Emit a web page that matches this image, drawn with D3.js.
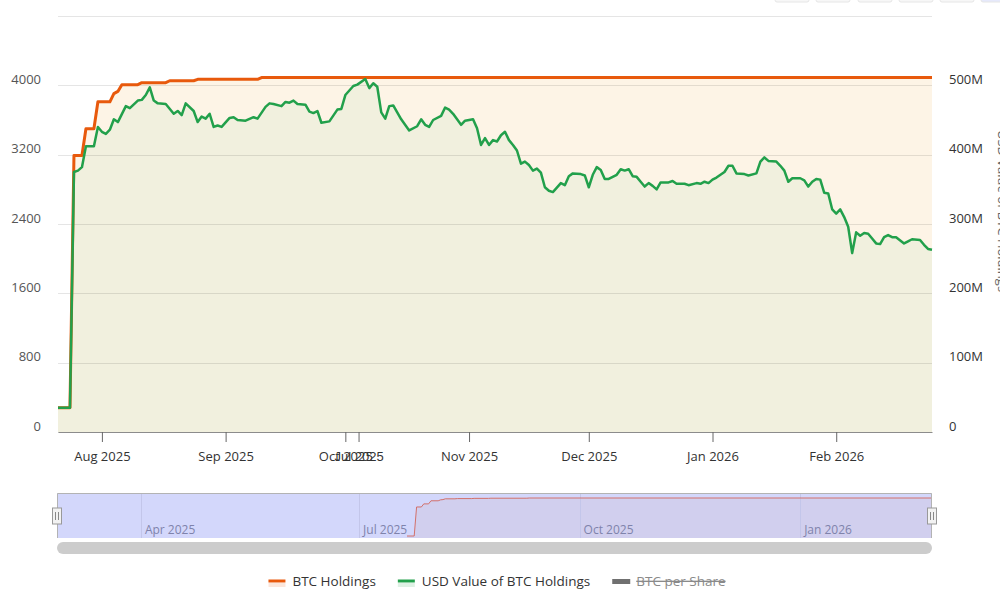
<!DOCTYPE html>
<html>
<head>
<meta charset="utf-8">
<script src="https://cdn.jsdelivr.net/npm/d3@7"></script>
<style>
    html, body { margin: 0; padding: 0; background: #ffffff; }
    svg { display: block; font-family: "Open Sans", "Noto Sans", sans-serif; }
</style>
</head>
<body>
<div id="chart"></div>
<script>
const holdingDates = [
    "2025-07-21", "2025-07-24", "2025-07-25", "2025-07-27", "2025-07-28", "2025-07-30",
    "2025-07-31", "2025-08-03", "2025-08-04", "2025-08-05", "2025-08-06", "2025-08-10",
    "2025-08-11", "2025-08-17", "2025-08-18", "2025-08-24", "2025-08-25", "2025-09-09",
    "2025-09-10", "2026-02-25"
];
const holdingValues = [
    280, 280, 3190, 3190, 3500, 3500,
    3810, 3810, 3905, 3930, 4008, 4008,
    4031, 4031, 4053, 4053, 4069, 4069,
    4090, 4090
];

// USD value of holdings, in millions
const usdDates = [
    "2025-07-21", "2025-07-24", "2025-07-25", "2025-07-26", "2025-07-27", "2025-07-28", "2025-07-30", "2025-07-31",
    "2025-08-01", "2025-08-02", "2025-08-03", "2025-08-04", "2025-08-05", "2025-08-07", "2025-08-08", "2025-08-10",
    "2025-08-11", "2025-08-12", "2025-08-13", "2025-08-14", "2025-08-15", "2025-08-17", "2025-08-19", "2025-08-20",
    "2025-08-21", "2025-08-22", "2025-08-24", "2025-08-25", "2025-08-26", "2025-08-27", "2025-08-28", "2025-08-29",
    "2025-08-30", "2025-08-31", "2025-09-02", "2025-09-03", "2025-09-04", "2025-09-06", "2025-09-08", "2025-09-09",
    "2025-09-11", "2025-09-12", "2025-09-13", "2025-09-15", "2025-09-16", "2025-09-17", "2025-09-18", "2025-09-19",
    "2025-09-21", "2025-09-22", "2025-09-23", "2025-09-24", "2025-09-25", "2025-09-27", "2025-09-29", "2025-09-30",
    "2025-10-01", "2025-10-03", "2025-10-04", "2025-10-06", "2025-10-07", "2025-10-08", "2025-10-09", "2025-10-10",
    "2025-10-11", "2025-10-12", "2025-10-13", "2025-10-15", "2025-10-17", "2025-10-19", "2025-10-20", "2025-10-21",
    "2025-10-22", "2025-10-23", "2025-10-25", "2025-10-26", "2025-10-27", "2025-10-28", "2025-10-30", "2025-10-31",
    "2025-11-02", "2025-11-03", "2025-11-04", "2025-11-05", "2025-11-06", "2025-11-07", "2025-11-08", "2025-11-09",
    "2025-11-10", "2025-11-11", "2025-11-12", "2025-11-13", "2025-11-14", "2025-11-15", "2025-11-16", "2025-11-17",
    "2025-11-18", "2025-11-19", "2025-11-20", "2025-11-21", "2025-11-22", "2025-11-24", "2025-11-25", "2025-11-26",
    "2025-11-27", "2025-11-29", "2025-11-30", "2025-12-01", "2025-12-02", "2025-12-03", "2025-12-04", "2025-12-05",
    "2025-12-06", "2025-12-07", "2025-12-08", "2025-12-09", "2025-12-10", "2025-12-11", "2025-12-12", "2025-12-13",
    "2025-12-14", "2025-12-15", "2025-12-16", "2025-12-17", "2025-12-18", "2025-12-19", "2025-12-21", "2025-12-22",
    "2025-12-23", "2025-12-25", "2025-12-26", "2025-12-28", "2025-12-29", "2025-12-30", "2025-12-31", "2026-01-01",
    "2026-01-02", "2026-01-03", "2026-01-04", "2026-01-05", "2026-01-06", "2026-01-07", "2026-01-09", "2026-01-10",
    "2026-01-12", "2026-01-13", "2026-01-14", "2026-01-15", "2026-01-17", "2026-01-18", "2026-01-19", "2026-01-20",
    "2026-01-21", "2026-01-23", "2026-01-24", "2026-01-25", "2026-01-26", "2026-01-27", "2026-01-28", "2026-01-29",
    "2026-01-30", "2026-01-31", "2026-02-01", "2026-02-02", "2026-02-03", "2026-02-04", "2026-02-05", "2026-02-06",
    "2026-02-07", "2026-02-08", "2026-02-09", "2026-02-10", "2026-02-11", "2026-02-12", "2026-02-13", "2026-02-14",
    "2026-02-15", "2026-02-16", "2026-02-18", "2026-02-19", "2026-02-20", "2026-02-22", "2026-02-23", "2026-02-24",
    "2026-02-25"
];
const usdValues = [
    35, 35, 375, 377, 382, 412, 412, 440,
    433, 430, 436, 451, 447, 470, 467, 478,
    479, 486, 497, 478, 474, 473, 459, 463,
    457, 474, 463, 447, 455, 452, 459, 440,
    442, 440, 453, 454, 450, 449, 454, 452,
    469, 474, 473, 470, 476, 475, 478, 473,
    472, 462, 460, 463, 446, 448, 465, 466,
    486, 499, 501, 509, 496, 503, 498, 461,
    452, 470, 471, 451, 435, 441, 451, 443,
    440, 450, 456, 468, 465, 459, 443, 449,
    451, 438, 414, 424, 414, 421, 419, 428,
    433, 421, 414, 406, 387, 390, 385, 377,
    380, 374, 353, 348, 346, 359, 356, 369,
    373, 372, 370, 353, 371, 382, 378, 365,
    365, 368, 371, 379, 377, 379, 369, 368,
    361, 354, 359, 355, 350, 360, 360, 362,
    358, 358, 356, 359, 358, 361, 359, 364,
    367, 371, 375, 384, 384, 373, 372, 370,
    373, 390, 396, 391, 390, 384, 377, 361,
    366, 366, 363, 354, 361, 365, 364, 345,
    344, 321, 315, 321, 310, 296, 258, 288,
    283, 287, 286, 279, 272, 271, 281, 284,
    281, 281, 272, 275, 278, 277, 270, 264,
    263
];

const xTickDates = ["2025-08-01", "2025-09-01", "2025-10-01", "2025-11-01", "2025-12-01", "2026-01-01", "2026-02-01"];
const xTickLabels = ["Aug 2025", "Sep 2025", "Oct 2025", "Nov 2025", "Dec 2025", "Jan 2026", "Feb 2026"];
const leftTicks = [0, 800, 1600, 2400, 3200, 4000, 4800];
const rightTicks = [0, 100, 200, 300, 400, 500, 600];
const rightTickLabels = ["0", "100M", "200M", "300M", "400M", "500M", "600M"];
const navTickDates = ["2025-04-01", "2025-07-01", "2025-10-01", "2026-01-01"];
const navTickLabels = ["Apr 2025", "Jul 2025", "Oct 2025", "Jan 2026"];
const legendLabels = ["BTC Holdings", "USD Value of BTC Holdings", "BTC per Share"];
const legendColors = ["#e8590c", "#22a04b", "#707070"];

(function () {
    "use strict";

    const d3 = window.d3;
    const parse = d3.utcParse("%Y-%m-%d");
    const width = 1000;
    const height = 600;

    const plot = { left: 58, right: 932, top: 16, bottom: 432 };
    const nav = { top: 493, bottom: 538 };

    const holdings = holdingDates.map((d, i) => ({ date: parse(d), value: holdingValues[i] }));
    const usd = usdDates.map((d, i) => ({ date: parse(d), value: usdValues[i] }));

    const svg = d3.select("#chart")
        .append("svg")
        .attr("width", width)
        .attr("height", height)
        .attr("viewBox", [0, 0, width, height]);

    const x = d3.scaleUtc()
        .domain([parse("2025-07-21"), parse("2026-02-25")])
        .range([plot.left, plot.right]);
    const yLeft = d3.scaleLinear().domain([0, 4800]).range([plot.bottom, plot.top]);
    const yRight = d3.scaleLinear().domain([0, 600]).range([plot.bottom, plot.top]);

    // range selector buttons, mostly above the visible page
    svg.append("g")
        .selectAll("rect")
        .data([775, 816, 858, 899, 940, 981])
        .join("rect")
        .attr("x", (d) => d)
        .attr("y", -20)
        .attr("width", 34)
        .attr("height", 22)
        .attr("rx", 2)
        .attr("fill", (d, i) => (i === 5 ? "#e6e9fb" : "#f7f7f7"))
        .attr("stroke", "#e6e6e6");

    // series fills
    const holdingArea = d3.area()
        .x((d) => x(d.date))
        .y0(plot.bottom)
        .y1((d) => yLeft(d.value));
    const usdArea = d3.area()
        .x((d) => x(d.date))
        .y0(plot.bottom)
        .y1((d) => yRight(d.value));

    svg.append("path")
        .datum(holdings)
        .attr("d", holdingArea)
        .attr("fill", "#fdf4e6");

    svg.append("path")
        .datum(usd)
        .attr("d", usdArea)
        .attr("fill", "#f1f0de");

    // grid lines
    svg.append("g")
        .selectAll("line")
        .data(leftTicks)
        .join("line")
        .attr("x1", plot.left)
        .attr("x2", plot.right)
        .attr("y1", (d) => Math.round(yLeft(d)) + 0.5)
        .attr("y2", (d) => Math.round(yLeft(d)) + 0.5)
        .attr("stroke", "rgba(0,0,0,0.1)");

    // lines
    svg.append("path")
        .datum(holdings)
        .attr("d", d3.line().x((d) => x(d.date)).y((d) => yLeft(d.value)))
        .attr("fill", "none")
        .attr("stroke", legendColors[0])
        .attr("stroke-width", 3)
        .attr("stroke-linejoin", "round");

    svg.append("path")
        .datum(usd)
        .attr("d", d3.line().x((d) => x(d.date)).y((d) => yRight(d.value)))
        .attr("fill", "none")
        .attr("stroke", legendColors[1])
        .attr("stroke-width", 2.5)
        .attr("stroke-linejoin", "round");

    // left axis
    svg.append("g")
        .attr("transform", `translate(${plot.left},0)`)
        .call(d3.axisLeft(yLeft)
            .tickValues(leftTicks.slice(0, -1))
            .tickFormat(d3.format("d"))
            .tickSize(0)
            .tickPadding(17))
        .call((g) => g.select(".domain").remove())
        .call((g) => g.selectAll("text")
            .attr("dy", "-0.15em")
            .attr("fill", "#555")
            .style("font-size", "13px")
            .style("font-family", "'Open Sans', sans-serif"));

    // right axis
    svg.append("g")
        .attr("transform", `translate(${plot.right},0)`)
        .call(d3.axisRight(yRight)
            .tickValues(rightTicks.slice(0, -1))
            .tickFormat((d, i) => rightTickLabels[i])
            .tickSize(0)
            .tickPadding(17))
        .call((g) => g.select(".domain").remove())
        .call((g) => g.selectAll("text")
            .attr("dy", "-0.15em")
            .attr("fill", "#333")
            .style("font-size", "13px")
            .style("font-family", "'Open Sans', sans-serif"));

    svg.append("text")
        .attr("transform", "translate(998,211) rotate(90)")
        .attr("text-anchor", "middle")
        .attr("fill", "#666")
        .style("font-size", "13px")
        .text("USD Value of BTC Holdings");

    // bottom axis
    const navX = d3.scaleUtc()
        .domain([parse("2025-02-25"), parse("2026-02-25")])
        .range([57, 932]);

    const xAxisG = svg.append("g")
        .attr("transform", `translate(0,${plot.bottom})`)
        .call(d3.axisBottom(x)
            .tickValues(xTickDates.map(parse))
            .tickFormat((d, i) => xTickLabels[i])
            .tickSize(10)
            .tickSizeOuter(0)
            .tickPadding(10))
        .call((g) => g.select(".domain").attr("stroke", "#8c8c8c"))
        .call((g) => g.selectAll(".tick line").attr("stroke", "#666"))
        .call((g) => g.selectAll("text")
            .attr("fill", "#333")
            .style("font-size", "13px")
            .style("font-family", "'Open Sans', sans-serif"));

    // the navigator's "Jul 2025" tick leaks into the main axis
    const leak = xAxisG.append("g")
        .attr("transform", `translate(${navX(parse(navTickDates[1]))},0)`);
    leak.append("line").attr("y2", 10).attr("stroke", "#666");
    leak.append("text")
        .attr("y", 20)
        .attr("dy", "0.71em")
        .attr("text-anchor", "middle")
        .attr("fill", "#333")
        .style("font-size", "13px")
        .text(navTickLabels[1]);

    // navigator
    const navY = d3.scaleLinear()
        .domain(d3.extent(holdingValues))
        .range([nav.bottom - 2, nav.top + 5]);

    const navG = svg.append("g");
    navG.append("rect")
        .attr("x", 57)
        .attr("y", nav.top)
        .attr("width", 932 - 57)
        .attr("height", nav.bottom - nav.top)
        .attr("fill", "#d3d7fb");

    navG.append("path")
        .datum(holdings)
        .attr("d", d3.area().x((d) => navX(d.date)).y0(nav.bottom).y1((d) => navY(d.value)))
        .attr("fill", "#d1cfee");

    navG.selectAll(".nav-grid")
        .data(navTickDates)
        .join("line")
        .attr("class", "nav-grid")
        .attr("x1", (d) => Math.round(navX(parse(d))) + 0.5)
        .attr("x2", (d) => Math.round(navX(parse(d))) + 0.5)
        .attr("y1", nav.top)
        .attr("y2", nav.bottom)
        .attr("stroke", "#c3c6ea");

    navG.selectAll(".nav-label")
        .data(navTickDates)
        .join("text")
        .attr("class", "nav-label")
        .attr("x", (d) => navX(parse(d)) + 4)
        .attr("y", 534)
        .attr("fill", "#7f83ab")
        .style("font-size", "12px")
        .text((d, i) => navTickLabels[i]);

    navG.append("path")
        .datum(holdings)
        .attr("d", d3.line().x((d) => navX(d.date)).y((d) => navY(d.value)))
        .attr("fill", "none")
        .attr("stroke", "#d2706a")
        .attr("stroke-width", 1);

    navG.append("path")
        .attr("d", `M57.5,${nav.bottom} V${nav.top + 0.5} H931.5 V${nav.bottom}`)
        .attr("fill", "none")
        .attr("stroke", "#b3b3b3");

    [57, 932].forEach((hx) => {
        const h = navG.append("g").attr("transform", `translate(${hx},508)`);
        h.append("rect")
            .attr("x", -4.5)
            .attr("y", 0)
            .attr("width", 9)
            .attr("height", 16)
            .attr("fill", "#f2f2f2")
            .attr("stroke", "#999");
        h.append("path")
            .attr("d", "M-1.5,4 V12 M1.5,4 V12")
            .attr("stroke", "#888");
    });

    // scrollbar
    svg.append("rect")
        .attr("x", 57)
        .attr("y", 542)
        .attr("width", 932 - 57)
        .attr("height", 12)
        .attr("rx", 6)
        .attr("fill", "#cccccc");

    // legend
    const legend = svg.append("g");
    const items = legendLabels.map((label, i) => {
        const g = legend.append("g");
        if (i < 2) {
            g.append("rect")
                .attr("x", 0).attr("y", 2).attr("width", 17).attr("height", 4)
                .attr("fill", legendColors[i]).attr("opacity", 0.15);
            g.append("line")
                .attr("x1", 0).attr("x2", 17).attr("y1", 0).attr("y2", 0)
                .attr("stroke", legendColors[i]).attr("stroke-width", 3);
        } else {
            g.append("rect")
                .attr("x", 0).attr("y", -2).attr("width", 18).attr("height", 5)
                .attr("fill", legendColors[i]);
        }
        const t = g.append("text")
            .attr("x", 24)
            .attr("y", 5)
            .attr("fill", i < 2 ? "#333" : "#8a8a8a")
            .style("font-size", "13.5px")
            .style("text-decoration", i < 2 ? "none" : "line-through")
            .text(label);
        return { g, w: 24 + t.node().getComputedTextLength() };
    });

    const gap = 22;
    const total = d3.sum(items, (d) => d.w) + gap * (items.length - 1);
    let cx = 497 - total / 2;
    items.forEach((it) => {
        it.g.attr("transform", `translate(${cx},581)`);
        cx += it.w + gap;
    });
})();
</script>
</body>
</html>
